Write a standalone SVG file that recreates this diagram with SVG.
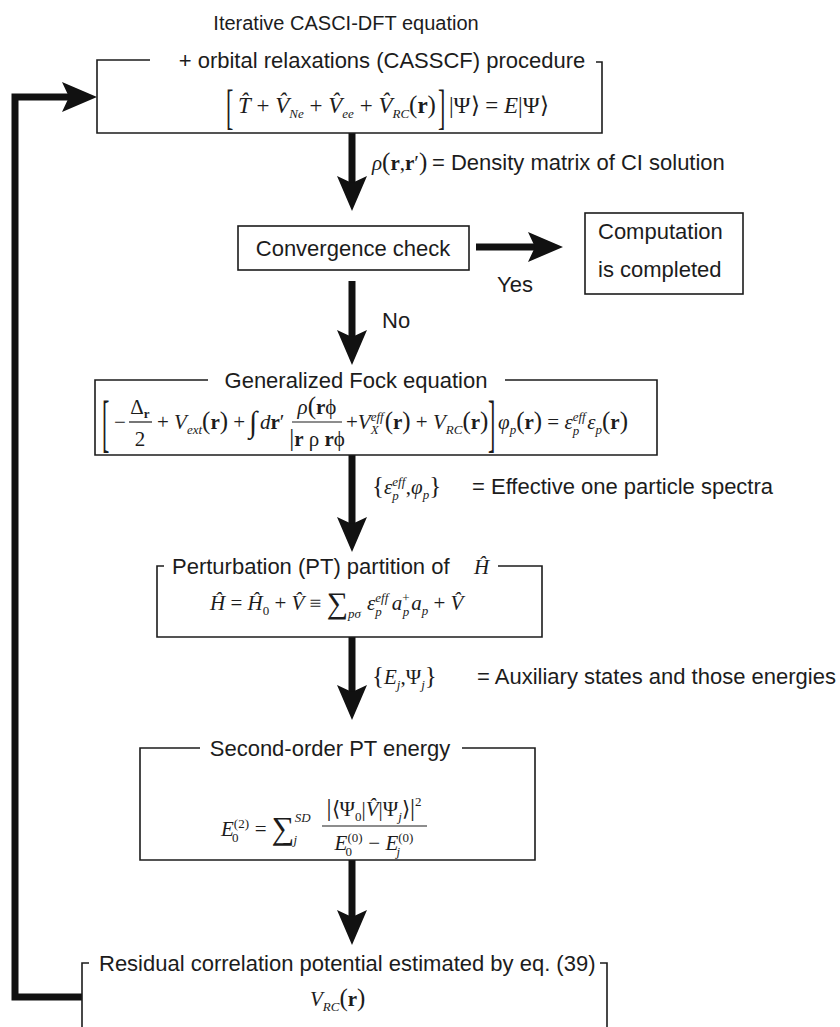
<svg xmlns="http://www.w3.org/2000/svg" width="840" height="1027" viewBox="0 0 840 1027">
<style>
.ln{fill:none;stroke:#1c1c1c;stroke-width:1.6}
.thk{fill:none;stroke:#111;stroke-width:7}
.ah{fill:#111}
.t{font-family:"Liberation Sans",Arial,Helvetica,sans-serif;font-size:22px;fill:#1c1c1c}
.m{font-family:"Liberation Serif","Times New Roman",serif;font-size:21px;fill:#1c1c1c}
.i{font-style:italic}
.b{font-weight:bold}
.s{font-size:13px}
.p{font-size:25px}
.br{font-family:"Liberation Serif","Times New Roman",serif;font-size:22px;fill:#1c1c1c}
</style>
<defs>
<path id="hd" d="M0,0 L-15,-35 L0,-28 L15,-35 Z"/>
<path id="hr" d="M0,0 L-35,-15 L-28,0 L-35,15 Z"/>
</defs>

<g id="connectors">
<line class="thk" x1="352" y1="133" x2="352" y2="186"/>
<use href="#hd" class="ah" x="352" y="211"/>
<line class="thk" x1="476" y1="247" x2="538" y2="247"/>
<use href="#hr" class="ah" x="563" y="247"/>
<line class="thk" x1="352" y1="281" x2="352" y2="340"/>
<use href="#hd" class="ah" x="352" y="365"/>
<line class="thk" x1="352" y1="455" x2="352" y2="527"/>
<use href="#hd" class="ah" x="352" y="552"/>
<line class="thk" x1="352" y1="637" x2="352" y2="695"/>
<use href="#hd" class="ah" x="352" y="720"/>
<line class="thk" x1="352" y1="860" x2="352" y2="920"/>
<use href="#hd" class="ah" x="352" y="945"/>
<path class="thk" d="M82,997 H15 V97 H74"/>
<use href="#hr" class="ah" x="97" y="97"/>
</g>

<g id="labels">
<text class="m" x="372" y="170"><tspan class="i">ρ</tspan><tspan class="p">(</tspan><tspan class="b">r</tspan>,<tspan class="b">r</tspan>′<tspan class="p">)</tspan></text>
<text class="t" x="432" y="170">= Density matrix of CI solution</text>
<text class="t" x="497" y="292">Yes</text>
<text class="t" x="382" y="328">No</text>
<text class="m" x="372" y="494"><tspan class="p">{</tspan><tspan class="i">ε</tspan><tspan class="i s" dy="-8">eff</tspan><tspan class="i s" dx="-13" dy="14">p</tspan><tspan dx="7" dy="-6">,</tspan><tspan class="i">φ</tspan><tspan class="i s" dy="5">p</tspan><tspan class="p" dy="-5">}</tspan></text>
<text class="t" x="472" y="494">= Effective one particle spectra</text>
<text class="m" x="372" y="684"><tspan class="p">{</tspan><tspan class="i">E</tspan><tspan class="i s" dy="5">j</tspan><tspan dy="-5">,Ψ</tspan><tspan class="i s" dy="5">j</tspan><tspan class="p" dy="-5">}</tspan></text>
<text class="t" x="477" y="684">= Auxiliary states and those energies</text>
</g>

<g id="casci">
<text class="t" x="346" y="30" text-anchor="middle" style="font-size:20px">Iterative CASCI-DFT equation</text>
<text class="t" x="382" y="68" text-anchor="middle">+ orbital relaxations (CASSCF) procedure</text>
<path class="ln" d="M150,60 H97 V133 H602 V62 H596"/>
<text class="br" transform="translate(226,123) scale(1,2.2)">[</text>
<text class="m" x="238" y="113" style="font-size:23px"><tspan class="i">T&#x302;</tspan> + <tspan class="i">V&#x302;</tspan><tspan class="i s" dy="5">Ne</tspan><tspan dy="-5"> + </tspan><tspan class="i">V&#x302;</tspan><tspan class="i s" dy="5">ee</tspan><tspan dy="-5"> + </tspan><tspan class="i">V&#x302;</tspan><tspan class="i s" dy="5">RC</tspan><tspan dy="-5" class="p">(</tspan><tspan class="b">r</tspan><tspan class="p">)</tspan></text>
<text class="br" transform="translate(438,123) scale(1,2.2)">]</text>
<text class="m" x="449" y="113" style="font-size:23px">|Ψ⟩ = <tspan class="i">E</tspan>|Ψ⟩</text>
</g>

<g id="convergence">
<rect class="ln" x="238" y="226" width="231" height="44"/>
<text class="t" x="353" y="256" text-anchor="middle">Convergence check</text>
</g>

<g id="completed">
<rect class="ln" x="585" y="213" width="158" height="81"/>
<text class="t" x="598" y="239">Computation</text>
<text class="t" x="598" y="277">is completed</text>
</g>

<g id="fock">
<path class="ln" d="M208,380 H95 V455 H657 V380 H505"/>
<text class="t" x="356" y="388" text-anchor="middle">Generalized Fock equation</text>
<text class="br" transform="translate(102,444) scale(1,2.9)">[</text>
<text class="m" x="114" y="429">−</text>
<text class="m" x="140" y="414" text-anchor="middle">Δ<tspan class="b s" dy="4">r</tspan></text>
<line class="ln" x1="129" y1="422" x2="152" y2="422" style="stroke-width:1.2"/>
<text class="m" x="140" y="446" text-anchor="middle">2</text>
<text class="m" x="157" y="429">+ <tspan class="i">V</tspan><tspan class="i s" dy="5">ext</tspan><tspan dy="-5" class="p">(</tspan><tspan class="b">r</tspan><tspan class="p">)</tspan> +</text>
<text class="m" x="249" y="432" style="font-size:30px">∫</text>
<text class="m" x="260" y="429"><tspan class="i">d</tspan><tspan class="b">r</tspan>′</text>
<text class="m" x="317" y="414" text-anchor="middle"><tspan class="i">ρ</tspan><tspan class="p">(</tspan><tspan class="b">r</tspan>ϕ</text>
<line class="ln" x1="292" y1="422" x2="342" y2="422" style="stroke-width:1.2"/>
<text class="m" x="317" y="446" text-anchor="middle"><tspan class="p">|</tspan><tspan class="b">r</tspan> ρ <tspan class="b">r</tspan>ϕ</text>
<text class="m" x="346" y="429">+<tspan class="i">V</tspan><tspan class="i s" dy="-8">eff</tspan><tspan class="i s" dx="-13" dy="13">X</tspan><tspan dx="6" dy="-5" class="p">(</tspan><tspan class="b">r</tspan><tspan class="p">)</tspan> + <tspan class="i">V</tspan><tspan class="i s" dy="5">RC</tspan><tspan dy="-5" class="p">(</tspan><tspan class="b">r</tspan><tspan class="p">)</tspan></text>
<text class="br" transform="translate(488,444) scale(1,2.9)">]</text>
<text class="m" x="498" y="429"><tspan class="i">φ</tspan><tspan class="i s" dy="5">p</tspan><tspan dy="-5" class="p">(</tspan><tspan class="b">r</tspan><tspan class="p">)</tspan> = <tspan class="i">ε</tspan><tspan class="i s" dy="-8">eff</tspan><tspan class="i s" dx="-13" dy="14">p</tspan><tspan dx="8" dy="-6" class="i">ε</tspan><tspan class="i s" dy="5">p</tspan><tspan dy="-5" class="p">(</tspan><tspan class="b">r</tspan><tspan class="p">)</tspan></text>
</g>

<g id="partition">
<path class="ln" d="M164,566 H157 V637 H542 V566 H498"/>
<text class="t" x="172" y="574">Perturbation (PT) partition of</text>
<text class="m i" x="474" y="574">H&#x302;</text>
<text class="m" x="210" y="610"><tspan class="i">H&#x302;</tspan> = <tspan class="i">H&#x302;</tspan><tspan class="s" dy="5">0</tspan><tspan dy="-5"> + </tspan><tspan class="i">V&#x302;</tspan> ≡ <tspan style="font-size:30px" dy="3">∑</tspan><tspan class="i s" dy="5">pσ</tspan><tspan dx="6" dy="-8" class="i">ε</tspan><tspan class="i s" dy="-8">eff</tspan><tspan class="i s" dx="-13" dy="14">p</tspan><tspan dx="10" dy="-6" class="i">a</tspan><tspan class="s" dy="-8">+</tspan><tspan class="i s" dx="-7" dy="14">p</tspan><tspan class="i" dx="2" dy="-6">a</tspan><tspan class="i s" dy="5">p</tspan><tspan dy="-5"> + </tspan><tspan class="i">V&#x302;</tspan></text>
</g>

<g id="secondorder">
<path class="ln" d="M200,748 H140 V860 H535 V748 H462"/>
<text class="t" x="330" y="756" text-anchor="middle">Second-order PT energy</text>
<text class="m" x="221" y="836"><tspan class="i">E</tspan><tspan class="s" dy="-8">(2)</tspan><tspan class="s" dx="-17" dy="14">0</tspan><tspan dx="11" dy="-6"> = </tspan><tspan style="font-size:32px" dy="3">∑</tspan><tspan class="i s" dy="-17">SD</tspan><tspan class="i s" dx="-17" dy="22">j</tspan></text>
<text class="m" x="374" y="816" text-anchor="middle"><tspan class="p">|</tspan>⟨Ψ<tspan class="s" dy="5">0</tspan><tspan dy="-5">|</tspan><tspan class="i">V&#x302;</tspan>|Ψ<tspan class="i s" dy="5">j</tspan><tspan dy="-5">⟩</tspan><tspan class="p">|</tspan><tspan class="s" dy="-10">2</tspan></text>
<line class="ln" x1="322" y1="826" x2="427" y2="826" style="stroke-width:1.2"/>
<text class="m" x="374" y="850" text-anchor="middle"><tspan class="i">E</tspan><tspan class="s" dy="-8">(0)</tspan><tspan class="s" dx="-17" dy="14">0</tspan><tspan dx="11" dy="-6"> − </tspan><tspan class="i">E</tspan><tspan class="s" dy="-8">(0)</tspan><tspan class="i s" dx="-17" dy="14">j</tspan></text>
</g>

<g id="residual">
<path class="ln" d="M82,1027 V963 H89"/>
<path class="ln" d="M600,963 H607 V1027"/>
<text class="t" x="99" y="971">Residual correlation potential estimated by eq. (39)</text>
<text class="m" x="310" y="1006"><tspan class="i">V</tspan><tspan class="i s" dy="5">RC</tspan><tspan dy="-5" class="p">(</tspan><tspan class="b">r</tspan><tspan class="p">)</tspan></text>
</g>
</svg>
